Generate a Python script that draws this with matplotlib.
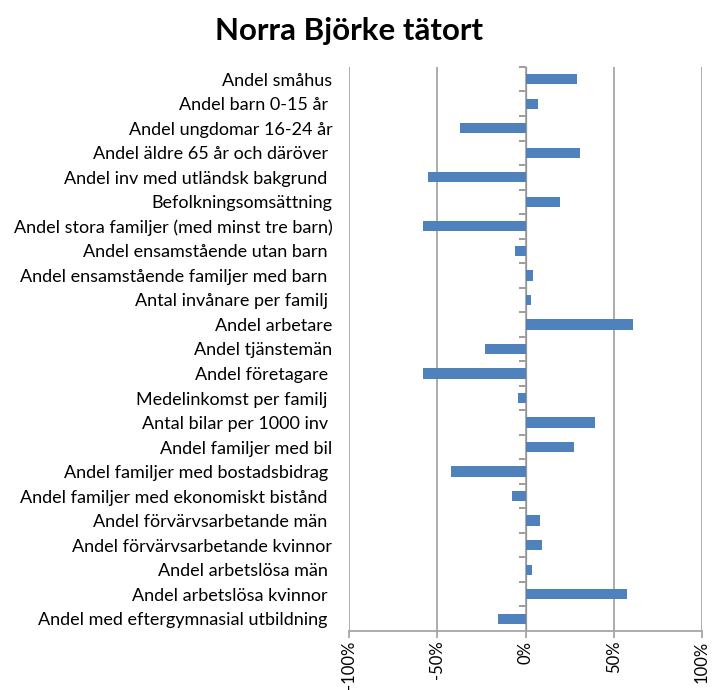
import matplotlib
matplotlib.use("Agg")
import matplotlib.pyplot as plt
from matplotlib.ticker import FuncFormatter

# indicator labels, top to bottom
labels = [
    "Andel småhus",
    "Andel barn 0-15 år ",
    "Andel ungdomar 16-24 år",
    "Andel äldre 65 år och däröver ",
    "Andel inv med utländsk bakgrund ",
    "Befolkningsomsättning",
    "Andel stora familjer (med minst tre barn)",
    "Andel ensamstående utan barn ",
    "Andel ensamstående familjer med barn ",
    "Antal invånare per familj ",
    "Andel arbetare",
    "Andel tjänstemän",
    "Andel företagare ",
    "Medelinkomst per familj ",
    "Antal bilar per 1000 inv ",
    "Andel familjer med bil",
    "Andel familjer med bostadsbidrag ",
    "Andel familjer med ekonomiskt bistånd ",
    "Andel förvärvsarbetande män ",
    "Andel förvärvsarbetande kvinnor",
    "Andel arbetslösa män ",
    "Andel arbetslösa kvinnor ",
    "Andel med eftergymnasial utbildning ",
]

# deviation from reference, in percent
values = [29, 7, -37, 31, -55, 19.5, -58, -6, 4.5, 3, 61, -23,
          -58, -4, 39.5, 27.5, -42.5, -7.5, 8, 9.5, 3.5, 57.5, -15.5]

xticks = [-100, -50, 0, 50, 100]

plt.rcParams['font.family'] = ['Lato', 'DejaVu Sans']

fig = plt.figure(figsize=(7.13, 6.90), dpi=100)
ax = fig.add_axes([0.4895, 0.0855, 0.4951, 0.8175])

pos = list(range(len(labels)))
ax.barh(pos, values, height=0.42, color='#4F81BD', zorder=3)

ax.set_ylim(len(labels) - 0.5, -0.5)
ax.set_xlim(-100, 100)
ax.set_xticks(xticks)
ax.xaxis.set_major_formatter(FuncFormatter(lambda v, p: f"{v:.0f}%"))
ax.grid(axis='x', color='#a6a6a6', linewidth=1.3, zorder=0)
ax.tick_params(axis='x', length=5, color='#a6a6a6', width=1.3,
               labelsize=12, labelrotation=90, pad=2)

ax.set_yticks(pos)
ax.set_yticklabels(labels, fontsize=13)
ax.tick_params(axis='y', length=0, pad=12)

for s in ['left', 'right', 'top']:
    ax.spines[s].set_visible(False)
ax.spines['bottom'].set_color('#a6a6a6')
ax.spines['bottom'].set_linewidth(1.3)

# zero line with category separators, ticks pointing left
sec = ax.secondary_yaxis(0.5)
sec.set_yticks([p + 0.5 for p in pos[:-1]] + [-0.5])
sec.set_yticklabels([])
sec.yaxis.set_ticks_position('left')
sec.tick_params(axis='y', which='both', length=5, color='#8c8c8c',
                width=1.2, direction='out', left=True, right=False)
sec.spines['left'].set_color('#8c8c8c')
sec.spines['left'].set_linewidth(1.2)

fig.text(0.49, 0.955, "Norra Björke tätort", ha='center', va='center',
         fontsize=22.5, fontweight='bold')

fig.savefig('out.png', dpi=100)
